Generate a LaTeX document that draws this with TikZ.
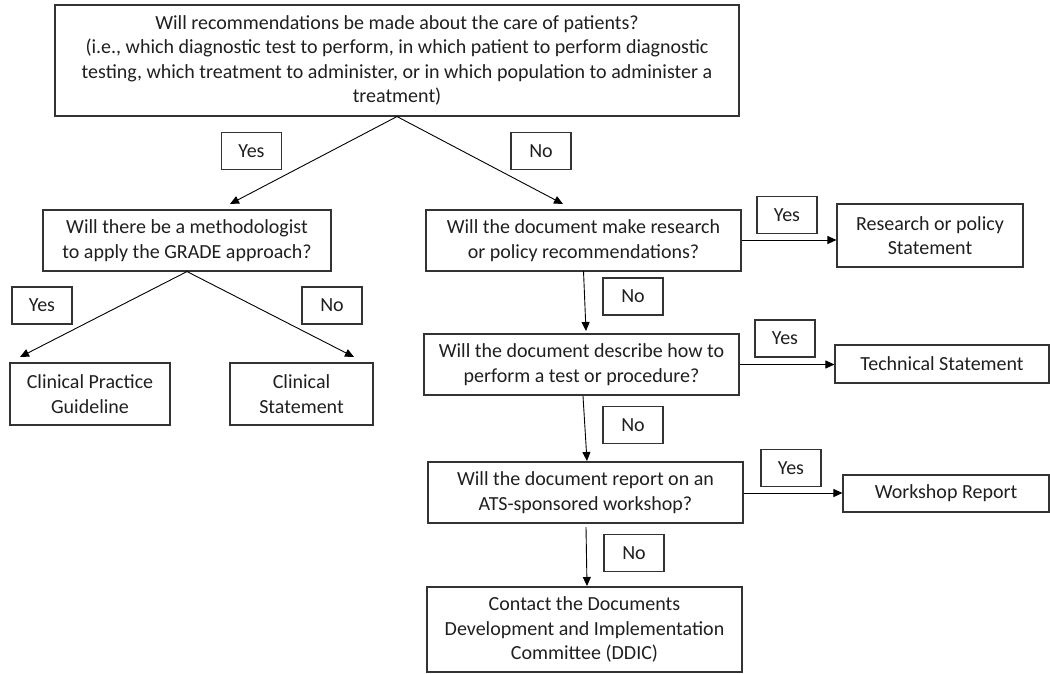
\documentclass[tikz,border=0pt]{standalone}
\usepackage{fontspec}
\setmainfont{Carlito}
\usetikzlibrary{arrows.meta,calc}
\begin{document}
\begin{tikzpicture}[x=1pt,y=-1pt,
  box/.style={draw=black!80, line width=1.1pt, inner sep=0pt, align=center,
    font=\fontsize{20}{24.5}\selectfont, text=black!88},
  lbl/.style={box, minimum width=60pt, minimum height=37pt},
  arr/.style={draw=black, line width=0.9pt, -{Triangle[length=9pt,width=8pt]}}]
\useasboundingbox (0,0) rectangle (1050,673);
% main boxes
\node[box, minimum width=684pt, minimum height=111pt] (top) at (397,60.5)
  {Will recommendations be made about the care of patients?\\
   (i.e., which diagnostic test to perform, in which patient to perform diagnostic\\
   testing, which treatment to administer, or in which population to administer a\\
   treatment)};
\node[box, minimum width=288pt, minimum height=61pt] (meth) at (187,240.5)
  {Will there be a methodologist\\to apply the GRADE approach?};
\node[box, minimum width=315pt, minimum height=61pt] (q1) at (583.5,240.5)
  {Will the document make research\\or policy recommendations?};
\node[box, minimum width=315pt, minimum height=61pt] (q2) at (581.5,364.5)
  {Will the document describe how to\\perform a test or procedure?};
\node[box, minimum width=315pt, minimum height=61pt] (q3) at (585.5,492.5)
  {Will the document report on an\\ATS-sponsored workshop?};
\node[box, minimum width=315pt, minimum height=85pt] (ddic) at (584.5,629.5)
  {Contact the Documents\\Development and Implementation\\Committee (DDIC)};
\node[box, minimum width=160pt, minimum height=62pt] (cpg) at (90,394)
  {Clinical Practice\\Guideline};
\node[box, minimum width=143pt, minimum height=62pt] (cs) at (301.5,394)
  {Clinical\\Statement};
\node[box, minimum width=186pt, minimum height=63pt] (rps) at (930,235.5)
  {Research or policy\\Statement};
\node[box, minimum width=214pt, minimum height=38pt] (tech) at (942,364)
  {Technical Statement};
\node[box, minimum width=206pt, minimum height=37pt] (work) at (946,493.5)
  {Workshop Report};
% labels
\node[lbl] (y1) at (251.5,151) {Yes};
\node[lbl] (n1) at (541,151) {No};
\node[lbl] (y2) at (42,305.5) {Yes};
\node[lbl] (n2) at (332,305.5) {No};
\node[lbl] (yr) at (787,215) {Yes};
\node[lbl] (na) at (633,296.5) {No};
\node[lbl] (yt) at (785,338.5) {Yes};
\node[lbl] (nb) at (633,425) {No};
\node[lbl] (yw) at (791,468) {Yes};
\node[lbl] (nc) at (634,553) {No};
% arrow tips
\coordinate (tm) at (230,204);
\coordinate (tq) at (563,204);
\coordinate (tcpg) at (20,357);
\coordinate (tcs) at (354,357);
\coordinate (s1) at (583.5,271);
\coordinate (e1) at (586,331);
\coordinate (s2) at (583,396);
\coordinate (e2) at (587,461);
\coordinate (s3) at (586,527);
\coordinate (e3) at (587,586);
% connectors
\draw[arr] (top.south) -- (tm);
\draw[arr] (top.south) -- (tq);
\draw[arr] (meth.south) -- (tcpg);
\draw[arr] (meth.south) -- (tcs);
\draw[arr] (q1.east |- 0,240) -- (rps.west |- 0,240);
\draw[arr] (q2.east) -- (tech.west |- q2.east);
\draw[arr] (q3.east |- 0,493) -- (work.west |- 0,493);
\draw[arr] (s1) -- (e1);
\draw[arr] (s2) -- (e2);
\draw[arr] (s3) -- (e3);
\end{tikzpicture}
\end{document}
